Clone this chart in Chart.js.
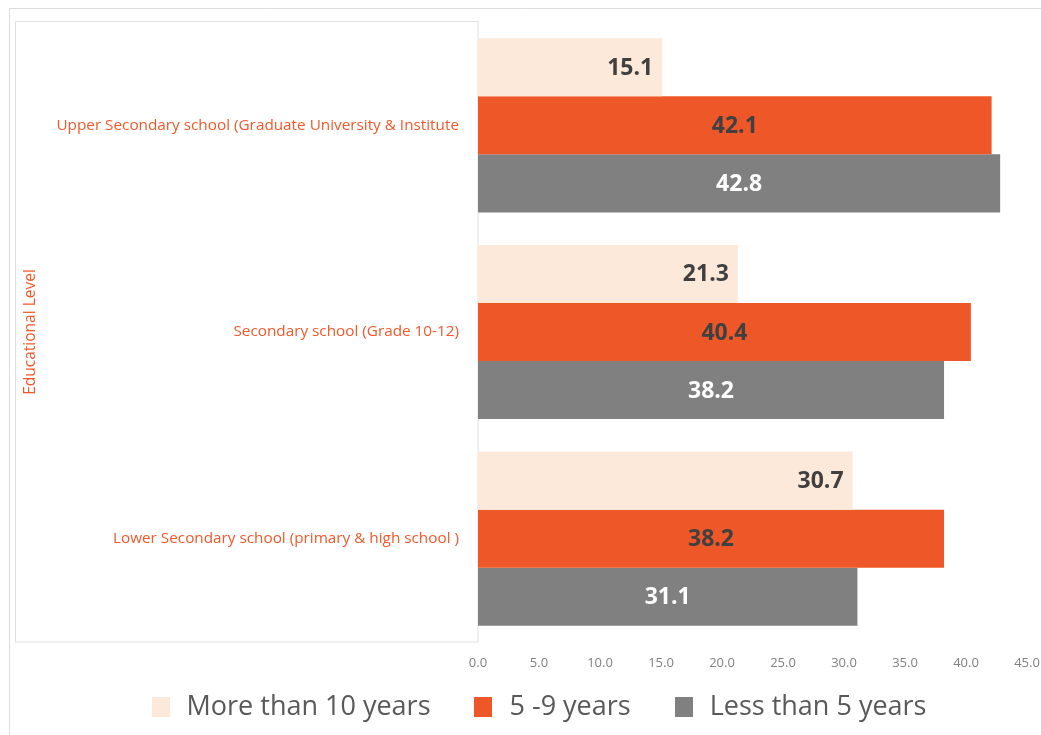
<!DOCTYPE html>
<html><head><meta charset="utf-8">
<script src="https://cdn.jsdelivr.net/npm/chart.js@4/dist/chart.umd.min.js"></script>
<style>html,body{margin:0;padding:0;background:#fff;}#wrap{width:1041px;height:735px;position:relative;}</style>
</head><body><div id="wrap"><canvas id="c" width="1041" height="735"></canvas></div>
<script>
const categories = ["Upper Secondary school (Graduate University & Institute", "Secondary school (Grade 10-12)", "Lower Secondary school (primary & high school )"];
const moreThan10 = [15.1, 21.3, 30.7];
const fiveTo9 = [42.1, 40.4, 38.2];
const lessThan5 = [42.8, 38.2, 31.1];
const seriesNames = ["More than 10 years", "5 -9 years", "Less than 5 years"];
const seriesColors = ['#fde9da', '#ee5829', '#808080'];
const xTicks = [0, 5, 10, 15, 20, 25, 30, 35, 40, 45];
const FONT = "'Open Sans', 'Noto Sans', sans-serif";

const framePlugin = {
  id: 'frame',
  beforeDraw(chart) {
    const ctx = chart.ctx, ca = chart.chartArea;
    ctx.save();
    ctx.strokeStyle = '#dcdcdc'; ctx.lineWidth = 1;
    ctx.beginPath(); ctx.moveTo(9.5, 735); ctx.lineTo(9.5, 8.5); ctx.lineTo(1041, 8.5); ctx.stroke();
    ctx.strokeStyle = '#e0e0e0';
    ctx.strokeRect(15.5, 21.5, Math.round(ca.left) - 15.5, Math.round(ca.bottom) - 21.5);
    ctx.restore();
  }
};
const labelPlugin = {
  id: 'vlabels',
  afterDatasetsDraw(chart) {
    const ctx = chart.ctx;
    ctx.save();
    ctx.font = "bold 23px " + FONT;
    ctx.textBaseline = 'middle';
    chart.data.datasets.forEach((ds, di) => {
      const meta = chart.getDatasetMeta(di);
      meta.data.forEach((bar, i) => {
        const v = ds.data[i].toFixed(1);
        ctx.fillStyle = di === 2 ? '#ffffff' : '#404040';
        if (di === 0) { ctx.textAlign = 'right'; ctx.fillText(v, bar.x - 9, bar.y + 1); }
        else { ctx.textAlign = 'center'; ctx.fillText(v, (bar.x + bar.base) / 2, bar.y + 1); }
      });
    });
    ctx.restore();
  }
};
const legendPlugin = {
  id: 'customLegend',
  afterDraw(chart) {
    const ctx = chart.ctx;
    ctx.save();
    ctx.font = "27px " + FONT;
    ctx.textBaseline = 'middle';
    const boxW = 18, boxH = 20, gapBox = 17, gapItem = 44, cy = 707;
    const widths = chart.data.datasets.map(ds => boxW + gapBox + ctx.measureText(ds.label).width);
    const total = widths.reduce((a, b) => a + b, 0) + gapItem * (widths.length - 1);
    let x = 539 - total / 2;
    chart.data.datasets.forEach((ds, i) => {
      ctx.fillStyle = ds.backgroundColor;
      ctx.fillRect(Math.round(x), cy - boxH / 2, boxW, boxH);
      ctx.fillStyle = '#595959';
      ctx.textAlign = 'left';
      ctx.fillText(ds.label, x + boxW + gapBox, cy);
      x += widths[i] + gapItem;
    });
    ctx.restore();
  }
};

new Chart(document.getElementById('c'), {
  type: 'bar',
  data: {
    labels: categories,
    datasets: [
      { label: seriesNames[0], data: moreThan10, backgroundColor: seriesColors[0] },
      { label: seriesNames[1], data: fiveTo9, backgroundColor: seriesColors[1] },
      { label: seriesNames[2], data: lessThan5, backgroundColor: seriesColors[2] }
    ]
  },
  options: {
    indexAxis: 'y',
    responsive: false,
    animation: false,
    layout: { padding: { left: 15, top: 22, right: 14, bottom: 57 } },
    categoryPercentage: 0.843,
    barPercentage: 1.0,
    plugins: {
      tooltip: { enabled: false },
      legend: { display: false }
    },
    scales: {
      x: {
        min: 0, max: 45,
        grid: { display: false, drawTicks: false },
        border: { display: false },
        afterBuildTicks(ax) { ax.ticks = xTicks.map(v => ({ value: v })); },
        ticks: { color: '#808080', font: { family: FONT, size: 13 }, padding: 13,
          callback: v => Number(v).toFixed(1), maxRotation: 0, autoSkip: false },
        afterFit(ax) { ax.height = 36; ax.paddingLeft = 0; ax.paddingRight = 0; }
      },
      y: {
        grid: { display: false, drawTicks: false },
        border: { display: false },
        ticks: { color: '#f0592a', font: { family: FONT, size: 15.3 }, padding: 19 },
        title: { display: true, text: 'Educational Level', color: '#f0592a', font: { family: FONT, size: 15.5 }, padding: { top: 6, bottom: 0 } },
        afterFit(ax) { ax.width = 463; ax.paddingTop = 0; ax.paddingBottom = 0; }
      }
    }
  },
  plugins: [framePlugin, labelPlugin, legendPlugin]
});
</script></body></html>
